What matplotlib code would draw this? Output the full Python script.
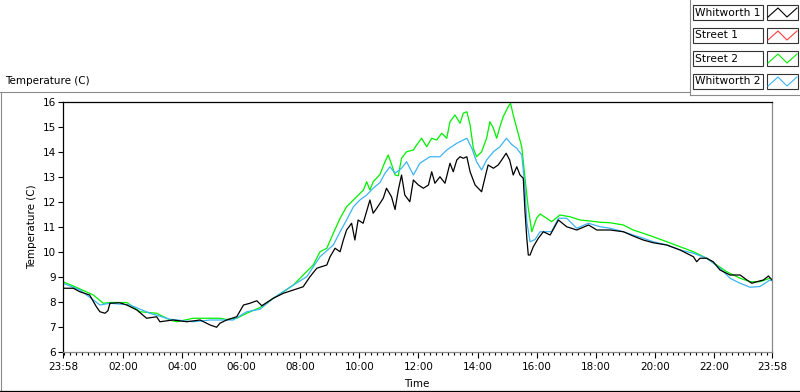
import numpy as np
import matplotlib
matplotlib.use('Agg')
import matplotlib.pyplot as plt
from matplotlib.lines import Line2D
from matplotlib.patches import Rectangle

plt.rcParams['font.family'] = 'DejaVu Sans'
plt.rcParams['font.size'] = 7.5

# time axis = hours since 23:58 (start of log)
whit1_t = [0.00, 0.35, 0.57, 0.90, 1.13, 1.25, 1.42, 1.52, 1.59, 1.92, 2.16, 2.50, 2.83, 3.17, 3.28,
           3.73, 4.19, 4.64, 4.98, 5.20, 5.31, 5.54, 5.88, 6.11, 6.33, 6.56, 6.73, 7.12, 7.46, 7.80,
           8.13, 8.36, 8.59, 8.93, 9.04, 9.21, 9.38, 9.49, 9.60, 9.77, 9.88, 9.99, 10.16, 10.39, 10.50,
           10.62, 10.84, 10.95, 11.12, 11.24, 11.35, 11.46, 11.57, 11.74, 11.86, 12.03, 12.20, 12.37,
           12.48, 12.59, 12.76, 12.93, 13.10, 13.21, 13.33, 13.44, 13.55, 13.67, 13.78, 13.95, 14.17,
           14.28, 14.39, 14.57, 14.73, 14.85, 15.00, 15.12, 15.24, 15.36, 15.47, 15.58, 15.64, 15.70,
           15.75, 15.81, 15.92, 16.09, 16.26, 16.49, 16.77, 17.05, 17.39, 17.79, 18.07, 18.52, 18.97,
           19.30, 19.64, 19.98, 20.44, 20.89, 21.34, 21.45, 21.56, 21.79, 22.01, 22.24, 22.58, 22.92,
           23.15, 23.32, 23.48, 23.71, 23.88, 24.00]
whit1_v = [8.55, 8.55, 8.41, 8.28, 7.81, 7.61, 7.55, 7.65, 7.95, 7.97, 7.88, 7.68, 7.35, 7.41, 7.21,
           7.28, 7.21, 7.28, 7.08, 6.99, 7.15, 7.28, 7.41, 7.88, 7.95, 8.05, 7.85, 8.15, 8.35, 8.48,
           8.61, 9.01, 9.35, 9.48, 9.81, 10.15, 10.01, 10.48, 10.88, 11.15, 10.48, 11.28, 11.15, 12.08, 11.55,
           11.75, 12.15, 12.55, 12.21, 11.70, 12.48, 13.08, 12.28, 12.01, 12.88, 12.68, 12.55, 12.68,
           13.21, 12.75, 13.01, 12.75, 13.55, 13.21, 13.68, 13.81, 13.75, 13.81, 13.21, 12.68, 12.41,
           12.95, 13.48, 13.35, 13.48, 13.68, 13.95, 13.68, 13.08, 13.41, 13.08, 12.95, 11.60, 10.55,
           9.88, 9.88, 10.21, 10.55, 10.81, 10.68, 11.28, 11.01, 10.88, 11.08, 10.88, 10.88, 10.81,
           10.64, 10.48, 10.37, 10.28, 10.08, 9.81, 9.61, 9.75, 9.75, 9.61, 9.28, 9.08, 9.08,
           8.88, 8.75, 8.81, 8.88, 9.04, 8.88]

street1_t = []
street1_v = []

street2_t = [0.00, 0.35, 1.03, 1.36, 1.59, 2.16, 2.61, 3.17, 3.62, 3.85, 4.41, 5.31, 5.54, 5.88, 6.22,
             6.67, 7.12, 7.46, 7.80, 8.13, 8.47, 8.70, 8.93, 9.15, 9.38, 9.60, 9.83, 10.00, 10.17,
             10.28, 10.39, 10.50, 10.73, 10.90, 11.01, 11.13, 11.24, 11.35, 11.46, 11.63, 11.86, 11.97,
             12.14, 12.31, 12.48, 12.65, 12.82, 12.99, 13.10, 13.27, 13.44, 13.55, 13.67, 13.78, 13.89,
             14.00, 14.17, 14.34, 14.45, 14.57, 14.68, 14.79, 14.90, 15.07, 15.15, 15.24, 15.36, 15.53,
             15.64, 15.75, 15.87, 16.03, 16.15, 16.37, 16.54, 16.82, 17.16, 17.50, 17.84, 18.18, 18.52,
             18.97, 19.30, 19.64, 19.98, 20.44, 20.89, 21.34, 21.79, 22.13, 22.47, 22.92, 23.26, 23.59,
             23.93, 24.00]
street2_v = [8.81, 8.64, 8.28, 7.95, 7.98, 7.98, 7.61, 7.55, 7.28, 7.21, 7.35, 7.35, 7.30, 7.35, 7.55,
             7.78, 8.15, 8.41, 8.68, 9.08, 9.48, 10.01, 10.15, 10.75, 11.35, 11.81, 12.08, 12.28, 12.48,
             12.81, 12.48, 12.81, 13.10, 13.61, 13.88, 13.48, 13.08, 13.05, 13.75, 14.01, 14.08, 14.28,
             14.55, 14.21, 14.55, 14.48, 14.75, 14.55, 15.21, 15.48, 15.15, 15.55, 15.61, 15.08, 14.15,
             13.81, 14.01, 14.55, 15.21, 14.95, 14.55, 15.01, 15.41, 15.81, 15.95, 15.48, 14.95, 14.20,
             12.95, 11.75, 10.81, 11.35, 11.52, 11.35, 11.21, 11.48, 11.41, 11.28, 11.24, 11.19, 11.17,
             11.08, 10.88, 10.75, 10.61, 10.41, 10.21, 10.01, 9.75, 9.48, 9.21, 8.95, 8.81, 8.81,
             8.95, 8.90]

whit2_t = [0.00, 0.57, 1.03, 1.25, 1.59, 2.27, 2.94, 3.62, 4.41, 4.98, 5.76, 6.22, 6.67, 7.12, 7.80,
           8.25, 8.70, 9.15, 9.38, 9.60, 9.83, 10.05, 10.28, 10.50, 10.73, 10.90, 11.07, 11.24, 11.46,
           11.63, 11.86, 12.08, 12.42, 12.76, 12.99, 13.33, 13.67, 13.84, 14.00, 14.17, 14.34, 14.57,
           14.79, 15.01, 15.19, 15.36, 15.53, 15.64, 15.70, 15.81, 15.98, 16.15, 16.37, 16.54, 16.77,
           17.05, 17.39, 17.79, 18.18, 18.52, 18.97, 19.30, 19.64, 19.98, 20.44, 20.89, 21.34, 21.79,
           22.24, 22.58, 22.92, 23.26, 23.59, 23.93, 24.00]
whit2_v = [8.75, 8.48, 8.08, 7.88, 7.95, 7.88, 7.55, 7.31, 7.21, 7.28, 7.28, 7.61, 7.71, 8.15, 8.68,
           9.01, 9.81, 10.28, 10.81, 11.28, 11.81, 12.08, 12.28, 12.55, 12.78, 13.15, 13.41, 13.15, 13.35,
           13.61, 13.08, 13.55, 13.81, 13.81, 14.08, 14.35, 14.55, 14.15, 13.61, 13.28, 13.68, 14.01,
           14.21, 14.55, 14.30, 14.15, 13.88, 12.55, 11.21, 10.41, 10.50, 10.81, 10.81, 10.82, 11.35,
           11.35, 10.95, 11.15, 11.01, 10.95, 10.81, 10.68, 10.55, 10.41, 10.28, 10.08, 9.95, 9.75,
           9.35, 8.95, 8.75, 8.59, 8.62, 8.88, 8.85]

names = ['Whitworth 1', 'Street 1', 'Street 2', 'Whitworth 2']
colors = ['#000000', '#ff3c3c', '#00f000', '#3cb4f5']

tick_labels = ['23:58', '02:00', '04:00', '06:00', '08:00', '10:00', '12:00',
               '14:00', '16:00', '18:00', '20:00', '22:00', '23:58']

W, H = 800, 392


def fx(x):
    return x / W


def fy(y):
    return 1 - y / H


fig = plt.figure(figsize=(8, 3.92), dpi=100)
ax = fig.add_axes([fx(63), fy(352), 709 / W, 250 / H])

series = [(street2_t, street2_v, colors[2]),
          (whit2_t, whit2_v, colors[3]),
          (street1_t, street1_v, colors[1]),
          (whit1_t, whit1_v, colors[0])]
for t, v, c in series:
    ax.plot(t, v, color=c, lw=0.9)

ax.set_xlim(0, 24)
ax.set_ylim(6, 16)
ax.set_yticks(np.arange(6, 17, 1))

# tick positions from clock labels, relative to 23:58
start = 23 * 60 + 58
pos = []
for i, lab in enumerate(tick_labels):
    hh, mm = lab.split(':')
    m = (int(hh) * 60 + int(mm) - start) % 1440
    if i == len(tick_labels) - 1:
        m = 1440
    pos.append(m / 60.0)
ax.set_xticks(pos)
ax.set_xticklabels(tick_labels)
ax.set_xticks(np.arange(2 / 60, 24, 0.2), minor=True)

ax.tick_params(axis='y', direction='out', length=3.6, width=0.8, pad=1.5)
ax.tick_params(axis='x', which='major', direction='out', length=4.3, width=0.8, pad=3)
ax.tick_params(axis='x', which='minor', direction='out', length=2.2, width=0.8)

for s in ['left', 'top']:
    ax.spines[s].set_color('black')
    ax.spines[s].set_linewidth(0.9)
for s in ['right', 'bottom']:
    ax.spines[s].set_color('#8a8a8a')
    ax.spines[s].set_linewidth(0.9)

fig.text(fx(32), fy(227), 'Temperature (C)', rotation=90, ha='center', va='center')
fig.text(fx(417), fy(384), 'Time', ha='center', va='center')
fig.text(fx(5), fy(81), 'Temperature (C)', ha='left', va='center')

# panel frame
gray = '#8a8a8a'
fig.add_artist(Line2D([fx(0), fx(690)], [fy(92), fy(92)], color=gray, lw=0.8))
fig.add_artist(Line2D([fx(0.6), fx(0.6)], [fy(92), fy(392)], color=gray, lw=0.8))
fig.add_artist(Line2D([fx(0), fx(800)], [fy(391.3), fy(391.3)], color='black', lw=0.9))
fig.add_artist(Line2D([fx(690), fx(690)], [fy(0), fy(95)], color=gray, lw=0.8))
fig.add_artist(Line2D([fx(690), fx(800)], [fy(95), fy(95)], color=gray, lw=0.8))

# legend
for i, (name, c) in enumerate(zip(names, colors)):
    top = 5 + 23 * i
    h = 15
    fig.add_artist(Rectangle((fx(692.5), fy(top + h)), 70 / W, h / H, transform=fig.transFigure,
                             facecolor='white', edgecolor='#333333', lw=0.8))
    fig.text(fx(695), fy(top + h / 2), name, ha='left', va='center', fontsize=7.7)
    fig.add_artist(Rectangle((fx(766.5), fy(top + h)), 31.5 / W, h / H, transform=fig.transFigure,
                             facecolor='white', edgecolor='#333333', lw=0.8))
    zx = [768, 778, 787, 797]
    zy = [top + 12, top + 3, top + 12, top + 3]
    fig.add_artist(Line2D([fx(x) for x in zx], [fy(y) for y in zy], color=c, lw=0.8))

fig.savefig('out.png', dpi=100)
